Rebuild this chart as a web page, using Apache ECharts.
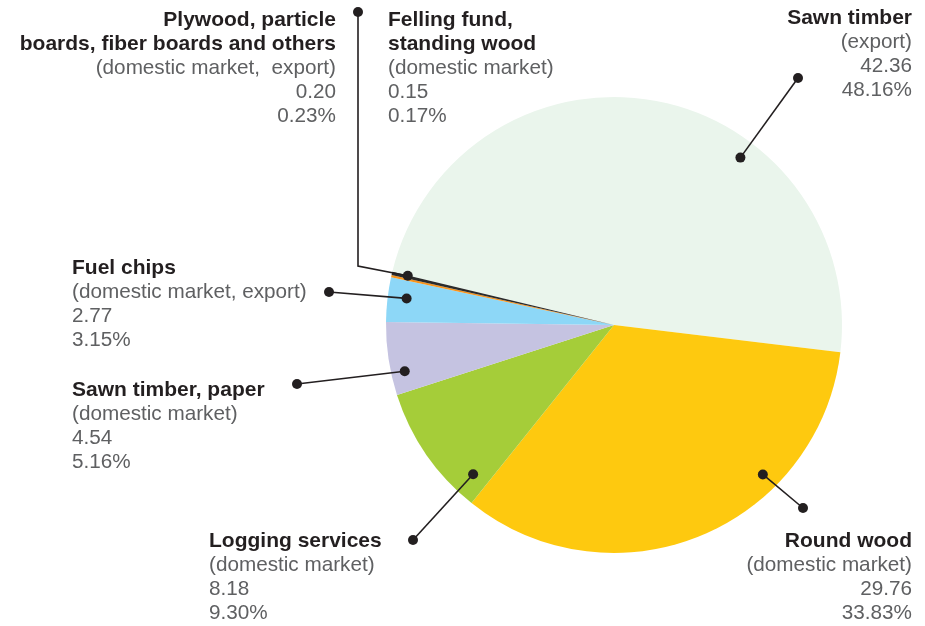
<!DOCTYPE html>
<html>
<head>
<meta charset="utf-8">
<style>
  html, body { margin: 0; padding: 0; background: #fff; }
  #chart { width: 925px; height: 626px; }
</style>
<script src="https://cdn.jsdelivr.net/npm/echarts@6/dist/echarts.min.js"></script>
</head>
<body>
<div id="chart"></div>
<script>
// data, clockwise from the start angle
const categories = ['Sawn timber', 'Round wood', 'Logging services', 'Sawn timber, paper', 'Fuel chips',
  'Felling fund,\nstanding wood', 'Plywood, particle\nboards, fiber boards and others']
const markets = ['(export)', '(domestic market)', '(domestic market)', '(domestic market)',
  '(domestic market, export)', '(domestic market)', '(domestic market,  export)']
const values = [42.36, 29.76, 8.18, 4.54, 2.77, 0.15, 0.20]
const percents = ['48.16%', '33.83%', '9.30%', '5.16%', '3.15%', '0.17%', '0.23%']
const colors = ['#eaf5ec', '#fec90f', '#a5cd39', '#c5c3e1', '#8dd7f7', '#f7941d', '#2b2b2b']

// label placement (layout only)
const labelPos = [
  { x: 912, y: 6, align: 'right' },
  { x: 912, y: 529, align: 'right' },
  { x: 209, y: 529, align: 'left' },
  { x: 72, y: 378, align: 'left' },
  { x: 72, y: 256, align: 'left' },
  { x: 388, y: 8, align: 'left' },
  { x: 336, y: 8, align: 'right' }
]
// leader lines: anchor inside slice (fraction of sweep, fraction of radius) + outer points
const leaders = [
  { f: 0.655, r: 0.92, pts: [[798, 78]] },
  { f: 0.314, r: 0.925, pts: [[803, 508]] },
  { f: 0.14, r: 0.9, pts: [[413, 540]] },
  { f: 0.29, r: 0.94, pts: [[297, 384]] },
  { f: 0.58, r: 0.917, pts: [[329, 292]] },
  null,
  { f: 0.9, r: 0.93, pts: [[358, 266], [358, 12]] }
]

const ink = '#231f20'
const richFor = (align) => ({
  t: { fontFamily: 'Liberation Sans', fontWeight: 'bold', fontSize: 21, color: ink, lineHeight: 24, align: align },
  s: { fontFamily: 'Liberation Sans', fontSize: 20.7, color: '#5f6062', lineHeight: 24, align: align }
})

const chart = echarts.init(document.getElementById('chart'))

chart.setOption({
  animation: false,
  series: [{
    type: 'pie',
    center: [614, 325],
    radius: 228,
    startAngle: 166.5,
    clockwise: true,
    avoidLabelOverlap: false,
    silent: true,
    itemStyle: { borderWidth: 0 },
    labelLine: { show: false },
    label: {
      show: true,
      position: 'outside',
      formatter: (p) => {
        const i = p.dataIndex
        const title = categories[i].split('\n').map(s => '{t|' + s + '}').join('\n')
        return [title, '{s|' + markets[i] + '}', '{s|' + values[i].toFixed(2) + '}', '{s|' + percents[i] + '}'].join('\n')
      }
    },
    labelLayout: (p) => {
      const pos = labelPos[p.dataIndex]
      return { x: pos.x, y: pos.y, align: pos.align, verticalAlign: 'top', hideOverlap: false }
    },
    data: categories.map((name, i) => ({
      name: name,
      value: values[i],
      itemStyle: { color: colors[i] },
      label: { align: labelPos[i].align, rich: richFor(labelPos[i].align) }
    }))
  }]
})

// leader lines with dots, anchored on the computed slice geometry
const pieData = chart.getModel().getSeriesByIndex(0).getData()
const elements = []
leaders.forEach((ld, i) => {
  if (!ld) return
  const lay = pieData.getItemLayout(i)
  const a = lay.startAngle + ld.f * (lay.endAngle - lay.startAngle)
  const inner = [lay.cx + lay.r * ld.r * Math.cos(a), lay.cy + lay.r * ld.r * Math.sin(a)]
  const pts = [inner].concat(ld.pts)
  elements.push({
    type: 'polyline',
    z: 100,
    shape: { points: pts },
    style: { stroke: ink, lineWidth: 1.6, fill: null },
    silent: true
  })
  ;[inner, pts[pts.length - 1]].forEach(pt => {
    elements.push({
      type: 'circle',
      z: 101,
      shape: { cx: pt[0], cy: pt[1], r: 5 },
      style: { fill: ink },
      silent: true
    })
  })
})
chart.setOption({ graphic: { elements: elements } })
</script>
</body>
</html>
